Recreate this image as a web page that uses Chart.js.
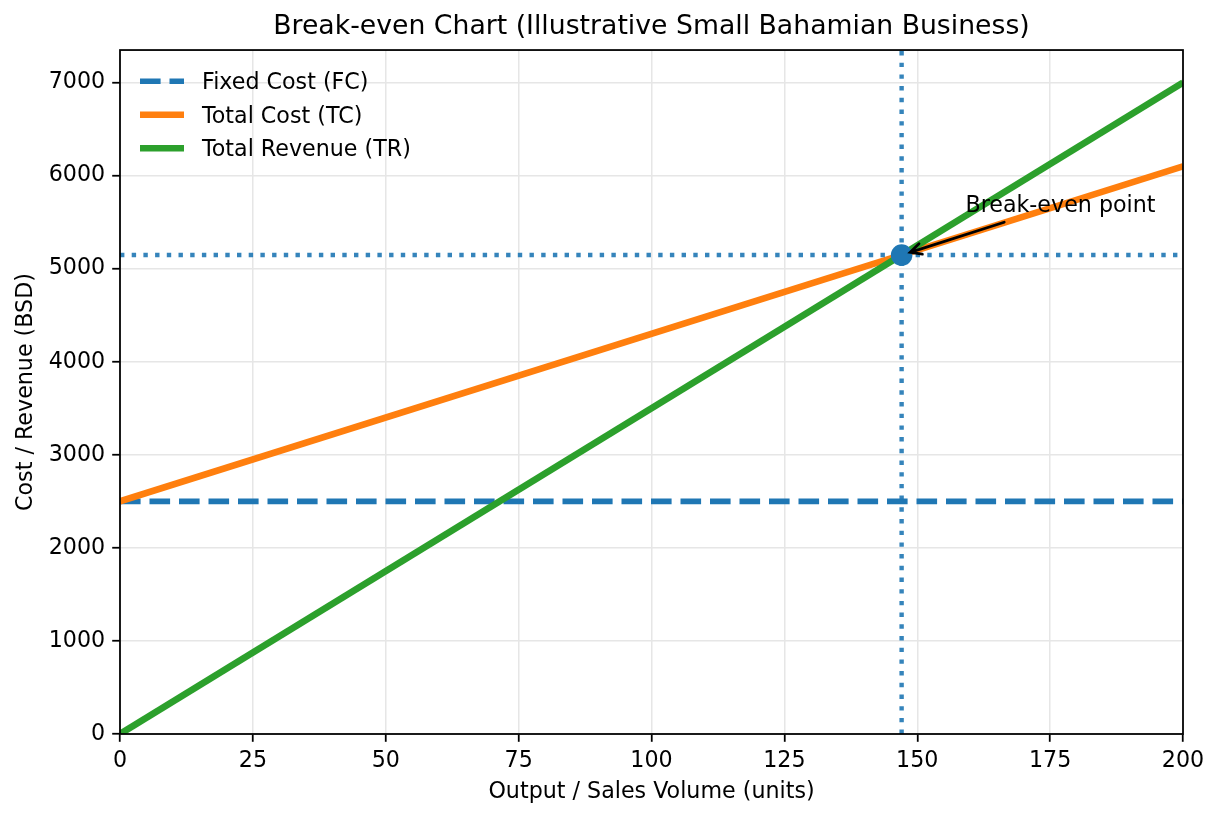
<!DOCTYPE html>
<html>
<head>
<meta charset="utf-8">
<script src="https://cdn.jsdelivr.net/npm/chart.js@4.4.0/dist/chart.umd.min.js"></script>
<style>
  html, body { margin: 0; padding: 0; background: #fff; }
  #wrap { width: 1219px; height: 819px; }
</style>
</head>
<body>
<div id="wrap"><canvas id="breakeven" width="1219" height="819"></canvas></div>
<script>
// Values
var units = [0, 200];
var fixedCost = [2500, 2500];
var totalCost = [2500, 6100];
var totalRevenue = [0, 7000];
var breakEvenUnits = 147.06;
var breakEvenValue = 5147;
var xTicks = [0, 25, 50, 75, 100, 125, 150, 175, 200];
var yTicks = [0, 1000, 2000, 3000, 4000, 5000, 6000, 7000];
var yMax = 7350;

var blue = '#1f77b4', orange = '#ff7f0e', green = '#2ca02c';
var fontSize = 22.2;
var fontName = '"DejaVu Sans", sans-serif';

function toPoints(xs, ys){
    var pts = [];
    for (var i = 0; i < xs.length; i++) pts.push({x: xs[i], y: ys[i]});
    return pts;
}

Chart.defaults.font.family = fontName;
Chart.defaults.color = '#000';

// Legend inside the axes, annotation with arrow, and the four spines
var extras = {
    id: 'extras',
    afterDatasetsDraw: function(chart){
        var ctx = chart.ctx, xs = chart.scales.x, ys = chart.scales.y, a = chart.chartArea;
        var px = xs.getPixelForValue(breakEvenUnits), py = ys.getPixelForValue(breakEvenValue);
        ctx.save();
        ctx.font = fontSize + 'px ' + fontName;
        ctx.fillStyle = '#000';
        ctx.textAlign = 'left';
        ctx.textBaseline = 'alphabetic';

        // legend (first three datasets)
        for (var i = 0; i < 3; i++) {
            var ds = chart.data.datasets[i];
            var base = a.top + 39.3 + i * 33.5;
            var mid = base - fontSize * 0.364;
            ctx.strokeStyle = ds.borderColor;
            ctx.lineWidth = ds.borderWidth;
            ctx.lineCap = 'butt';
            ctx.setLineDash(ds.borderDash || []);
            ctx.beginPath();
            ctx.moveTo(a.left + 20, mid);
            ctx.lineTo(a.left + 64, mid);
            ctx.stroke();
            ctx.setLineDash([]);
            ctx.fillText(ds.label, a.left + 82, base);
        }

        // annotation text
        var label = 'Break-even point';
        var tx = xs.getPixelForValue(breakEvenUnits + 12);
        var tb = ys.getPixelForValue(breakEvenValue + 460);
        ctx.fillText(label, tx, tb);
        var w = ctx.measureText(label).width;

        // arrow from text box edge to the point
        var cx = tx + w / 2, cy = tb - fontSize * 0.36;
        var dx = px - cx, dy = py - cy;
        var t = (tb + 10 - cy) / dy;
        var sx = cx + dx * t, sy = cy + dy * t;
        var len = Math.sqrt(dx * dx + dy * dy);
        var ux = dx / len, uy = dy / len;
        var hx = px - ux * 9, hy = py - uy * 9;
        ctx.strokeStyle = '#000';
        ctx.lineWidth = 2.8;
        ctx.lineCap = 'round';
        ctx.beginPath();
        ctx.moveTo(sx, sy);
        ctx.lineTo(hx, hy);
        ctx.moveTo(hx - ux * 11 - uy * 5.5, hy - uy * 11 + ux * 5.5);
        ctx.lineTo(hx, hy);
        ctx.lineTo(hx - ux * 11 + uy * 5.5, hy - uy * 11 - ux * 5.5);
        ctx.stroke();

        // frame
        ctx.lineWidth = 1.78;
        ctx.lineCap = 'butt';
        ctx.strokeRect(a.left, a.top, a.right - a.left, a.bottom - a.top);
        ctx.restore();
    }
};

var ctxBreakeven = document.getElementById('breakeven');
var breakevenChart = new Chart(ctxBreakeven, {
    type: 'line',
    data: {
        datasets: [
        {
            label: 'Fixed Cost (FC)',
            data: toPoints(units, fixedCost),
            borderColor: blue,
            backgroundColor: blue,
            borderWidth: 5.56,
            borderDash: [20.6, 8.9],
            pointRadius: 0,
            order: 5
        },
        {
            label: 'Total Cost (TC)',
            data: toPoints(units, totalCost),
            borderColor: orange,
            backgroundColor: orange,
            borderWidth: 6.67,
            pointRadius: 0,
            order: 4
        },
        {
            label: 'Total Revenue (TR)',
            data: toPoints(units, totalRevenue),
            borderColor: green,
            backgroundColor: green,
            borderWidth: 6.67,
            pointRadius: 0,
            order: 3
        },
        {
            label: 'vline',
            data: toPoints([breakEvenUnits, breakEvenUnits], [0, yMax]),
            borderColor: 'rgba(31,119,180,0.9)',
            borderWidth: 4.4,
            borderDash: [4.4, 7.3],
            pointRadius: 0,
            order: 2
        },
        {
            label: 'hline',
            data: toPoints(units, [breakEvenValue, breakEvenValue]),
            borderColor: 'rgba(31,119,180,0.9)',
            borderWidth: 4.4,
            borderDash: [4.4, 7.3],
            pointRadius: 0,
            order: 2
        },
        {
            label: 'Break-even',
            data: [{x: breakEvenUnits, y: breakEvenValue}],
            showLine: false,
            pointRadius: 10.8,
            pointHoverRadius: 10.8,
            pointBackgroundColor: blue,
            pointBorderWidth: 0,
            order: 1
        }]
    },
    options: {
        responsive: false,
        animation: false,
        devicePixelRatio: 1,
        events: [],
        layout: { padding: { top: 0, right: 36, bottom: 0, left: 0 } },
        plugins: {
            title: {
                display: true,
                fullSize: false,
                text: 'Break-even Chart (Illustrative Small Bahamian Business)',
                font: { size: 26.7, weight: 'normal' },
                color: '#000',
                padding: { top: 11, bottom: 7 }
            },
            legend: { display: false },
            tooltip: { enabled: false }
        },
        scales: {
            x: {
                type: 'linear',
                min: 0,
                max: 200,
                afterFit: function(scale){ scale.height = 85; },
                afterBuildTicks: function(scale){
                    scale.ticks = xTicks.map(function(v){ return {value: v}; });
                },
                ticks: {
                    font: { size: fontSize },
                    color: '#000',
                    padding: 6,
                    maxRotation: 0,
                    callback: function(v){ return String(v); }
                },
                grid: {
                    color: '#e6e6e6',
                    lineWidth: 1.5,
                    tickColor: '#000',
                    tickLength: 7.8,
                    tickWidth: 1.78
                },
                border: { display: false },
                title: {
                    display: true,
                    text: 'Output / Sales Volume (units)',
                    font: { size: fontSize },
                    color: '#000',
                    padding: { top: 0, bottom: 13.7 }
                }
            },
            y: {
                min: 0,
                max: yMax,
                afterFit: function(scale){ scale.width = 120; },
                afterBuildTicks: function(scale){
                    scale.ticks = yTicks.map(function(v){ return {value: v}; });
                },
                ticks: {
                    font: { size: fontSize },
                    color: '#000',
                    padding: 7,
                    callback: function(v){ return String(v); }
                },
                grid: {
                    color: '#e6e6e6',
                    lineWidth: 1.5,
                    tickColor: '#000',
                    tickLength: 7.8,
                    tickWidth: 1.78
                },
                border: { display: false },
                title: {
                    display: true,
                    text: 'Cost / Revenue (BSD)',
                    font: { size: fontSize },
                    color: '#000',
                    padding: { top: 13, bottom: 0 }
                }
            }
        }
    },
    plugins: [extras]
});
</script>
</body>
</html>
